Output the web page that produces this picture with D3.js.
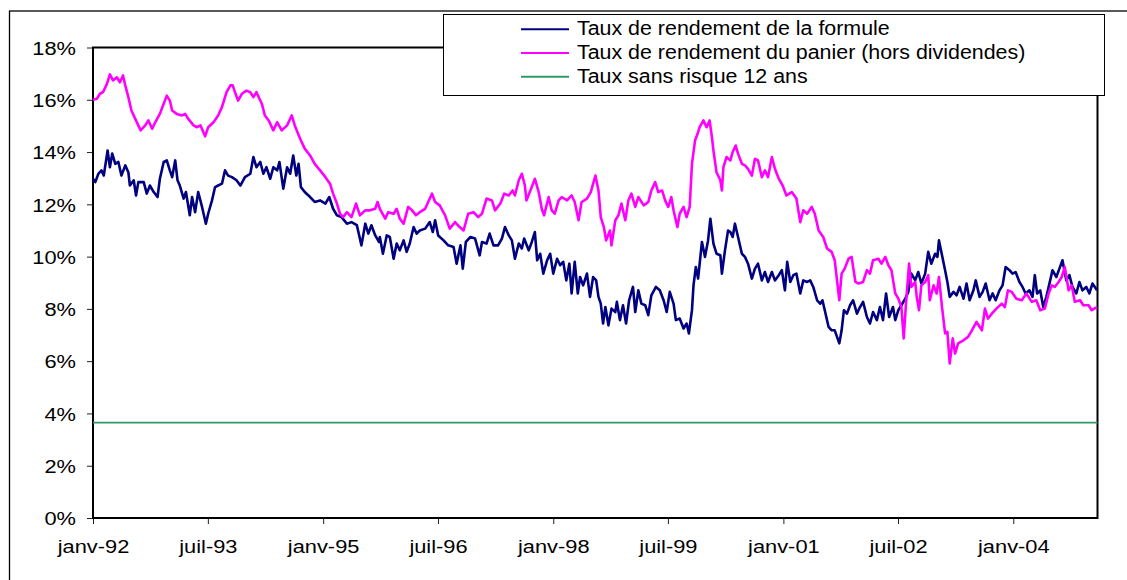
<!DOCTYPE html>
<html>
<head>
<meta charset="utf-8">
<script src="https://cdn.jsdelivr.net/npm/d3@7"></script>
<style>
    body { margin: 0; background: #fff; }
    svg { display: block; font-family: 'Liberation Sans', Arial, sans-serif; }
</style>
</head>
<body>
<div id="wrapper"></div>
<script>
// valeurs : [année décimale, taux en %]
const tauxFormule = [
    [1992.00, 12.98], [1992.03, 12.85], [1992.07, 13.17], [1992.11, 13.30], [1992.14, 13.10],
    [1992.19, 14.06], [1992.22, 13.42], [1992.25, 13.94], [1992.29, 13.55], [1992.33, 13.62],
    [1992.37, 13.10], [1992.42, 13.49], [1992.46, 13.23], [1992.48, 12.72], [1992.53, 12.92],
    [1992.56, 12.34], [1992.59, 12.85], [1992.66, 12.85], [1992.70, 12.41], [1992.74, 12.72],
    [1992.79, 12.47], [1992.84, 12.28], [1992.87, 12.98], [1992.92, 13.62], [1992.96, 13.68],
    [1993.00, 13.30], [1993.03, 13.04], [1993.07, 13.68], [1993.10, 12.92], [1993.13, 12.72],
    [1993.18, 12.22], [1993.21, 12.47], [1993.26, 11.58], [1993.29, 12.28], [1993.33, 11.70],
    [1993.37, 12.47], [1993.42, 11.90], [1993.47, 11.26], [1993.50, 11.64], [1993.55, 12.15],
    [1993.59, 12.66], [1993.63, 12.72], [1993.68, 12.79], [1993.72, 13.30], [1993.76, 13.10],
    [1993.81, 13.04], [1993.87, 12.92], [1993.92, 12.72], [1993.98, 13.04], [1994.05, 13.17],
    [1994.09, 13.81], [1994.13, 13.42], [1994.18, 13.62], [1994.22, 13.17], [1994.26, 13.42],
    [1994.31, 12.98], [1994.35, 13.42], [1994.40, 13.30], [1994.43, 13.62], [1994.48, 12.60],
    [1994.53, 13.42], [1994.57, 13.17], [1994.61, 13.87], [1994.65, 13.10], [1994.68, 13.55],
    [1994.71, 12.66], [1994.76, 12.47], [1994.83, 12.28], [1994.89, 12.09], [1994.96, 12.15],
    [1995.03, 12.03], [1995.08, 12.28], [1995.13, 11.83], [1995.18, 11.58], [1995.24, 11.51],
    [1995.31, 11.26], [1995.37, 11.32], [1995.44, 11.20], [1995.50, 10.43], [1995.55, 11.26],
    [1995.59, 10.88], [1995.63, 11.20], [1995.68, 10.81], [1995.73, 10.56], [1995.74, 10.75],
    [1995.78, 10.11], [1995.83, 10.81], [1995.87, 10.75], [1995.92, 9.92], [1995.96, 10.50],
    [1996.00, 10.24], [1996.05, 10.62], [1996.09, 10.18], [1996.13, 10.50], [1996.18, 11.13],
    [1996.22, 10.88], [1996.26, 11.00], [1996.33, 11.07], [1996.39, 11.32], [1996.43, 10.94],
    [1996.46, 11.39], [1996.50, 10.81], [1996.57, 10.62], [1996.63, 10.43], [1996.70, 10.37],
    [1996.74, 9.73], [1996.79, 10.43], [1996.82, 9.54], [1996.86, 10.56], [1996.92, 10.75],
    [1996.98, 10.69], [1997.04, 10.05], [1997.07, 10.56], [1997.13, 10.50], [1997.17, 10.88],
    [1997.22, 10.43], [1997.28, 10.43], [1997.33, 10.69], [1997.37, 11.13], [1997.42, 10.81],
    [1997.46, 10.62], [1997.50, 9.92], [1997.55, 10.50], [1997.59, 10.31], [1997.62, 10.69],
    [1997.68, 10.24], [1997.72, 10.56], [1997.76, 10.94], [1997.79, 9.86], [1997.83, 10.11],
    [1997.87, 9.35], [1997.92, 9.86], [1997.96, 10.11], [1998.00, 9.35], [1998.05, 9.92],
    [1998.09, 9.67], [1998.13, 9.80], [1998.17, 9.09], [1998.21, 9.73], [1998.24, 8.59],
    [1998.28, 9.80], [1998.32, 8.59], [1998.35, 9.22], [1998.39, 8.90], [1998.44, 9.35],
    [1998.48, 8.46], [1998.52, 9.22], [1998.56, 9.09], [1998.59, 8.46], [1998.62, 8.20],
    [1998.65, 7.44], [1998.68, 8.07], [1998.72, 7.37], [1998.76, 8.01], [1998.81, 7.88],
    [1998.83, 8.27], [1998.87, 7.57], [1998.91, 8.14], [1998.95, 7.44], [1998.99, 8.33],
    [1999.04, 8.84], [1999.07, 7.88], [1999.11, 8.71], [1999.15, 8.20], [1999.20, 8.14],
    [1999.24, 7.76], [1999.28, 8.52], [1999.34, 8.84], [1999.39, 8.71], [1999.44, 8.33],
    [1999.48, 7.88], [1999.52, 8.65], [1999.57, 8.20], [1999.60, 7.57], [1999.65, 7.63],
    [1999.70, 7.25], [1999.74, 7.44], [1999.77, 7.06], [1999.81, 7.95], [1999.83, 8.90],
    [1999.86, 9.60], [1999.89, 9.16], [1999.94, 10.56], [1999.98, 9.99], [2000.02, 10.62],
    [2000.05, 11.45], [2000.09, 10.50], [2000.13, 10.11], [2000.18, 10.05], [2000.20, 9.35],
    [2000.24, 10.24], [2000.28, 11.00], [2000.31, 10.94], [2000.34, 10.75], [2000.37, 11.26],
    [2000.41, 10.75], [2000.46, 10.11], [2000.50, 9.99], [2000.54, 9.73], [2000.59, 9.16],
    [2000.63, 9.54], [2000.67, 9.73], [2000.72, 9.09], [2000.76, 9.41], [2000.80, 9.03],
    [2000.85, 9.41], [2000.89, 9.09], [2000.94, 9.29], [2000.98, 9.48], [2001.02, 8.71],
    [2001.05, 9.80], [2001.09, 9.03], [2001.13, 9.29], [2001.17, 9.35], [2001.22, 8.59],
    [2001.26, 9.09], [2001.31, 9.03], [2001.35, 9.09], [2001.39, 8.84], [2001.44, 8.33],
    [2001.48, 8.20], [2001.51, 8.33], [2001.54, 7.95], [2001.59, 7.31], [2001.63, 7.18],
    [2001.67, 7.18], [2001.70, 6.93], [2001.73, 6.68], [2001.76, 7.18], [2001.79, 7.95],
    [2001.83, 7.82], [2001.87, 8.14], [2001.91, 8.33], [2001.96, 7.82], [2002.00, 8.07],
    [2002.04, 8.27], [2002.09, 7.69], [2002.13, 7.44], [2002.17, 7.88], [2002.22, 7.57],
    [2002.26, 8.07], [2002.30, 7.57], [2002.34, 8.59], [2002.38, 7.69], [2002.43, 8.07],
    [2002.46, 7.57], [2002.50, 7.95], [2002.54, 8.14], [2002.59, 8.39], [2002.63, 8.65],
    [2002.67, 9.35], [2002.72, 9.09], [2002.76, 9.41], [2002.80, 8.97], [2002.85, 9.35],
    [2002.89, 10.18], [2002.93, 9.73], [2002.98, 10.11], [2003.01, 9.99], [2003.03, 10.62],
    [2003.07, 10.05], [2003.11, 9.48], [2003.14, 9.03], [2003.17, 8.46], [2003.22, 8.65],
    [2003.26, 8.52], [2003.30, 8.84], [2003.35, 8.39], [2003.39, 8.97], [2003.43, 8.33],
    [2003.48, 8.71], [2003.51, 9.09], [2003.56, 8.46], [2003.60, 8.65], [2003.64, 8.97],
    [2003.69, 8.33], [2003.73, 8.59], [2003.77, 8.33], [2003.82, 8.71], [2003.86, 8.90],
    [2003.90, 9.60], [2003.95, 9.48], [2003.99, 9.35], [2004.03, 9.41], [2004.08, 9.03],
    [2004.12, 8.84], [2004.16, 8.59], [2004.21, 8.71], [2004.25, 8.46], [2004.28, 9.29],
    [2004.31, 8.59], [2004.35, 8.71], [2004.39, 8.07], [2004.43, 8.46], [2004.48, 9.09],
    [2004.51, 9.48], [2004.56, 9.22], [2004.60, 9.54], [2004.64, 9.86], [2004.69, 9.09],
    [2004.73, 9.29], [2004.77, 8.84], [2004.82, 8.59], [2004.86, 9.03], [2004.90, 8.71],
    [2004.95, 8.84], [2004.99, 8.59], [2005.03, 8.97], [2005.09, 8.71]
]

const tauxPanier = [
    [1992.00, 16.00], [1992.05, 16.04], [1992.09, 16.23], [1992.13, 16.29], [1992.18, 16.60],
    [1992.22, 16.97], [1992.26, 16.74], [1992.31, 16.86], [1992.35, 16.67], [1992.39, 16.93],
    [1992.42, 16.55], [1992.46, 16.10], [1992.50, 15.59], [1992.55, 15.27], [1992.59, 15.02],
    [1992.62, 14.83], [1992.68, 15.02], [1992.72, 15.21], [1992.77, 14.89], [1992.81, 15.14],
    [1992.87, 15.46], [1992.92, 15.85], [1992.96, 16.16], [1993.00, 15.97], [1993.03, 15.59],
    [1993.09, 15.46], [1993.16, 15.40], [1993.20, 15.46], [1993.24, 15.27], [1993.31, 15.02],
    [1993.35, 14.95], [1993.40, 15.02], [1993.46, 14.60], [1993.50, 14.95], [1993.57, 15.14],
    [1993.63, 15.40], [1993.68, 15.72], [1993.74, 16.29], [1993.79, 16.55], [1993.82, 16.55],
    [1993.85, 16.29], [1993.89, 15.97], [1993.94, 16.23], [1994.00, 16.35], [1994.05, 16.29],
    [1994.09, 16.10], [1994.13, 16.29], [1994.20, 15.85], [1994.24, 15.40], [1994.29, 15.21],
    [1994.35, 14.83], [1994.40, 15.14], [1994.46, 14.83], [1994.53, 15.02], [1994.59, 15.40],
    [1994.63, 15.02], [1994.70, 14.51], [1994.76, 14.13], [1994.83, 13.87], [1994.89, 13.55],
    [1994.96, 13.30], [1995.03, 13.04], [1995.09, 12.79], [1995.13, 12.41], [1995.18, 12.03],
    [1995.22, 11.64], [1995.26, 11.51], [1995.31, 11.70], [1995.37, 11.51], [1995.43, 12.03],
    [1995.48, 11.58], [1995.55, 11.77], [1995.61, 11.77], [1995.68, 11.83], [1995.71, 12.09],
    [1995.74, 11.83], [1995.81, 11.45], [1995.85, 11.70], [1995.92, 11.64], [1995.96, 11.83],
    [1996.00, 11.45], [1996.05, 11.26], [1996.11, 11.90], [1996.16, 11.77], [1996.21, 11.58],
    [1996.26, 11.70], [1996.33, 11.83], [1996.37, 12.09], [1996.42, 12.41], [1996.46, 12.09],
    [1996.52, 11.96], [1996.59, 11.58], [1996.65, 11.07], [1996.72, 11.32], [1996.78, 11.13],
    [1996.83, 11.00], [1996.89, 11.64], [1996.96, 11.70], [1997.02, 11.51], [1997.07, 11.64],
    [1997.13, 12.22], [1997.20, 12.15], [1997.24, 11.77], [1997.31, 12.03], [1997.36, 12.41],
    [1997.42, 12.34], [1997.47, 12.53], [1997.50, 12.34], [1997.55, 12.92], [1997.59, 13.17],
    [1997.63, 12.72], [1997.65, 12.15], [1997.72, 12.66], [1997.76, 12.98], [1997.81, 12.47],
    [1997.85, 11.83], [1997.88, 11.58], [1997.94, 12.28], [1997.98, 11.77], [1998.02, 11.64],
    [1998.07, 12.15], [1998.11, 12.28], [1998.18, 12.15], [1998.24, 12.34], [1998.28, 12.09],
    [1998.33, 11.39], [1998.37, 12.09], [1998.44, 12.22], [1998.49, 12.47], [1998.55, 13.10],
    [1998.59, 12.53], [1998.62, 11.51], [1998.66, 11.13], [1998.69, 10.62], [1998.74, 11.00],
    [1998.76, 10.43], [1998.81, 11.39], [1998.85, 11.58], [1998.89, 12.03], [1998.94, 11.39],
    [1998.98, 12.15], [1999.02, 12.41], [1999.07, 11.90], [1999.11, 12.28], [1999.18, 11.96],
    [1999.24, 12.09], [1999.28, 12.53], [1999.33, 12.85], [1999.37, 12.47], [1999.42, 12.53],
    [1999.46, 12.15], [1999.50, 11.90], [1999.54, 12.28], [1999.57, 11.77], [1999.62, 11.13],
    [1999.65, 11.64], [1999.70, 11.90], [1999.74, 11.51], [1999.78, 11.90], [1999.81, 13.55],
    [1999.85, 14.44], [1999.89, 14.76], [1999.91, 14.95], [1999.96, 15.21], [2000.00, 14.95],
    [2000.04, 15.21], [2000.07, 14.57], [2000.09, 14.06], [2000.13, 13.23], [2000.18, 12.92],
    [2000.20, 12.53], [2000.22, 13.42], [2000.26, 13.81], [2000.31, 13.68], [2000.34, 14.00],
    [2000.38, 14.25], [2000.41, 13.94], [2000.46, 13.55], [2000.50, 13.49], [2000.54, 13.36],
    [2000.59, 13.10], [2000.63, 13.74], [2000.67, 13.68], [2000.72, 13.04], [2000.76, 13.30],
    [2000.80, 13.04], [2000.85, 13.81], [2000.89, 13.36], [2000.94, 12.98], [2000.99, 12.72],
    [2001.04, 12.34], [2001.11, 12.47], [2001.17, 12.22], [2001.22, 11.32], [2001.26, 11.77],
    [2001.31, 11.64], [2001.37, 11.90], [2001.41, 11.64], [2001.46, 11.00], [2001.52, 10.75],
    [2001.57, 10.31], [2001.63, 10.18], [2001.67, 9.86], [2001.70, 9.09], [2001.73, 8.33],
    [2001.76, 9.35], [2001.80, 9.54], [2001.85, 9.92], [2001.89, 9.99], [2001.94, 9.03],
    [2001.98, 8.97], [2002.04, 9.03], [2002.09, 9.48], [2002.13, 9.35], [2002.17, 9.86],
    [2002.24, 9.92], [2002.28, 9.73], [2002.33, 9.99], [2002.37, 9.67], [2002.41, 9.48],
    [2002.46, 8.59], [2002.50, 8.39], [2002.54, 8.07], [2002.57, 6.87], [2002.60, 8.20],
    [2002.64, 9.73], [2002.67, 8.84], [2002.72, 9.03], [2002.74, 8.46], [2002.77, 7.95],
    [2002.80, 8.90], [2002.85, 9.03], [2002.89, 9.29], [2002.91, 8.33], [2002.96, 8.90],
    [2003.00, 8.59], [2003.03, 9.22], [2003.07, 8.07], [2003.11, 7.06], [2003.14, 7.12],
    [2003.17, 5.91], [2003.21, 6.87], [2003.24, 6.29], [2003.28, 6.68], [2003.35, 6.80],
    [2003.41, 6.93], [2003.46, 7.18], [2003.52, 7.50], [2003.59, 7.18], [2003.63, 8.01],
    [2003.67, 7.63], [2003.72, 7.82], [2003.78, 8.01], [2003.85, 8.20], [2003.89, 8.07],
    [2003.93, 8.71], [2003.98, 8.65], [2004.04, 8.39], [2004.11, 8.33], [2004.17, 8.59],
    [2004.24, 8.27], [2004.30, 8.33], [2004.35, 7.95], [2004.41, 8.01], [2004.46, 8.59],
    [2004.50, 8.90], [2004.54, 8.84], [2004.59, 9.03], [2004.63, 9.22], [2004.67, 9.60],
    [2004.72, 8.71], [2004.76, 8.90], [2004.80, 8.27], [2004.87, 8.33], [2004.91, 8.14],
    [2004.98, 8.14], [2005.02, 7.95], [2005.09, 8.07]
]

const tauxSansRisque = 3.65
const periode = [1992, 2005.096]

const xTickDates = ['1992-01-01', '1993-07-01', '1995-01-01', '1996-07-01', '1998-01-01',
    '1999-07-01', '2001-01-01', '2002-07-01', '2004-01-01']
const xTickLabels = ['janv-92', 'juil-93', 'janv-95', 'juil-96', 'janv-98',
    'juil-99', 'janv-01', 'juil-02', 'janv-04']
const yTicks = [0, 2, 4, 6, 8, 10, 12, 14, 16, 18]

const legendLabels = [
    'Taux de rendement de la formule',
    'Taux de rendement du panier (hors dividendes)',
    'Taux sans risque 12 ans'
]
const colors = ['#000080', '#ff00ff', '#339966']

// année décimale -> Date
function yearToDate(y) {
    const yr = Math.floor(y)
    const start = new Date(yr, 0, 1)
    const end = new Date(yr + 1, 0, 1)
    return new Date(+start + (y - yr) * (end - start))
}

function drawLineChart() {
    const xAccessor = d => yearToDate(d[0])
    const yAccessor = d => d[1]
    const parseDate = d3.timeParse('%Y-%m-%d')

    // dimensions
    const dms = {
        width: 1127,
        height: 580,
        margins: { top: 47.5, right: 29.5, bottom: 62, left: 93 }
    }
    dms.boundedWidth = dms.width - dms.margins.left - dms.margins.right
    dms.boundedHeight = dms.height - dms.margins.top - dms.margins.bottom

    const wrapper = d3.select('#wrapper')
        .append('svg')
            .attr('width', dms.width)
            .attr('height', dms.height)

    // cadre extérieur (coupé à droite et en bas comme sur l'original)
    wrapper.append('rect')
        .attr('x', 9.5)
        .attr('y', 11)
        .attr('width', 1300)
        .attr('height', 800)
        .attr('fill', 'none')
        .attr('stroke', '#000')
        .attr('stroke-width', 1.3)

    const bounds = wrapper.append('g')
        .attr('transform', `translate(${dms.margins.left},${dms.margins.top})`)

    // scales
    const xScale = d3.scaleTime()
        .domain(periode.map(yearToDate))
        .range([0, dms.boundedWidth])

    const yScale = d3.scaleLinear()
        .domain([0, 18])
        .range([dms.boundedHeight, 0])

    // axes
    const yAxis = bounds.append('g')
        .call(d3.axisLeft(yScale)
            .tickValues(yTicks)
            .tickSize(6)
            .tickSizeOuter(0)
            .tickFormat(d => d + '%'))
    yAxis.select('.domain').remove()
    yAxis.selectAll('line').attr('stroke', '#222')
    yAxis.selectAll('text')
        .attr('x', -17 / 1.18)
        .attr('dy', '0.36em')
        .attr('transform', 'scale(1.18,1)')
        .attr('fill', '#000')
        .style('font-size', '18.5px')

    const xAxis = bounds.append('g')
        .attr('transform', `translate(0,${dms.boundedHeight})`)
        .call(d3.axisBottom(xScale)
            .tickValues(xTickDates.map(parseDate))
            .tickSize(6)
            .tickSizeOuter(0)
            .tickFormat((d, i) => xTickLabels[i]))
    xAxis.select('.domain').remove()
    xAxis.selectAll('line').attr('stroke', '#222')
    xAxis.selectAll('text')
        .attr('y', 34.7)
        .attr('dy', null)
        .attr('transform', 'scale(1.18,1)')
        .attr('fill', '#000')
        .style('font-size', '18.5px')

    // zone de tracé
    bounds.append('rect')
        .attr('width', dms.boundedWidth)
        .attr('height', dms.boundedHeight)
        .attr('fill', 'none')
        .attr('stroke', '#000')
        .attr('stroke-width', 2)

    // séries
    const lineGenerator = d3.line()
        .x(d => xScale(xAccessor(d)))
        .y(d => yScale(yAccessor(d)))

    const series = [
        tauxFormule,
        tauxPanier,
        periode.map(y => [y, tauxSansRisque])
    ]
    const widths = [2.6, 2.6, 1.8]

    series.forEach((data, i) => {
        bounds.append('path')
            .attr('d', lineGenerator(data))
            .attr('fill', 'none')
            .attr('stroke', colors[i])
            .attr('stroke-width', widths[i])
            .attr('stroke-linejoin', 'round')
    })

    // légende
    const legend = wrapper.append('g')

    legend.append('rect')
        .attr('x', 443.5)
        .attr('y', 14.5)
        .attr('width', 661)
        .attr('height', 81)
        .attr('fill', '#fff')
        .attr('stroke', '#000')
        .attr('stroke-width', 1)

    const rowY = [29.3, 53, 76.7]

    legendLabels.forEach((label, i) => {
        legend.append('line')
            .attr('x1', 521)
            .attr('x2', 569)
            .attr('y1', rowY[i])
            .attr('y2', rowY[i])
            .attr('stroke', colors[i])
            .attr('stroke-width', 2)

        legend.append('text')
            .attr('x', 577 / 1.07)
            .attr('y', rowY[i] + 6)
            .attr('transform', 'scale(1.07,1)')
            .style('font-size', '20px')
            .attr('fill', '#000')
            .text(label)
    })
}

drawLineChart()
</script>
</body>
</html>
